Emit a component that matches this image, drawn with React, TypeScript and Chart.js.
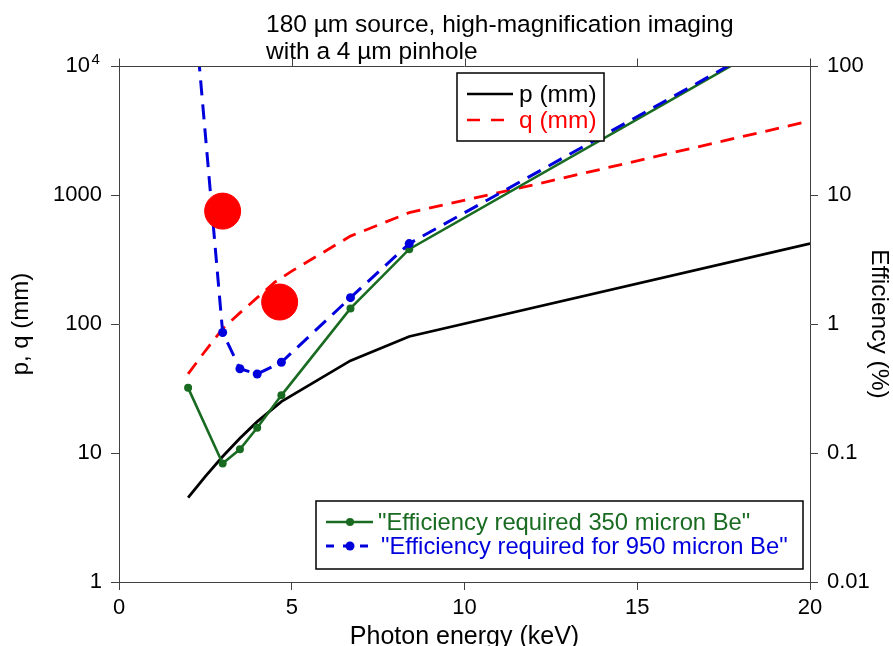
import React, { useEffect, useRef } from 'react';
import { Chart, registerables } from 'chart.js';

Chart.register(...registerables);

// ---------- data ----------
const pEnergy = [2, 2.5, 3, 3.5, 4, 4.7, 6.7, 8.4, 20];
const pValues = [4.5, 6.6, 9.4, 13, 17.5, 25, 52, 80, 420];

const qEnergy = [2, 2.5, 3, 3.5, 4, 4.5, 5, 6.7, 8.4, 11.7, 20];
const qValues = [41, 62, 92, 122, 160, 210, 257, 480, 730, 1150, 3750];

const eff350Energy = [2, 3, 3.5, 4, 4.7, 6.7, 8.4, 20];
const eff350Values = [0.32, 0.083, 0.107, 0.157, 0.28, 1.32, 3.8, 224];

const eff950Energy = [2, 3, 3.5, 4, 4.7, 6.7, 8.4, 20];
const eff950Values = [1000, 0.86, 0.45, 0.41, 0.505, 1.6, 4.2, 226];

const sourceEnergy = [3, 4.65];
const sourceValues = [750, 148];

const xTicks = [0, 5, 10, 15, 20];
const leftTicks = [1, 10, 100, 1000, 10000];
const rightTicks = [0.01, 0.1, 1, 10, 100];

const titleLines = ['180 µm source, high-magnification imaging', 'with a 4 µm pinhole'];
const legendTop = ['p (mm)', 'q (mm)'];
const legendBottom = ['"Efficiency required 350 micron Be"', '"Efficiency required for 950 micron Be"'];

// ---------- styles ----------
const FONT = "'Liberation Sans', Arial, sans-serif";
const FRAME = '#404040';
const BLACK = '#000000';
const RED = '#ff0000';
const GREEN = '#1a6b22';
const BLUE = '#0000dd';

const toXY = (xs: number[], ys: number[]) => xs.map((x, i) => ({ x, y: ys[i] }));

const decorPlugin = {
  id: 'decor',
  afterDraw(chart: any) {
    const ctx = chart.ctx as CanvasRenderingContext2D;
    const { left, right, top } = chart.chartArea;
    const xs = chart.scales.x;
    const ys = chart.scales.y;
    ctx.save();

    // top frame + outward ticks
    ctx.strokeStyle = FRAME;
    ctx.lineWidth = 1;
    ctx.beginPath();
    const ty = Math.round(top) + 0.5;
    ctx.moveTo(left, ty);
    ctx.lineTo(right, ty);
    xTicks.forEach((v) => {
      const px = Math.round(xs.getPixelForValue(v)) + 0.5;
      ctx.moveTo(px, ty);
      ctx.lineTo(px, ty - 8);
    });
    ctx.stroke();

    // 10^4 label
    const y4 = ys.getPixelForValue(10000);
    ctx.fillStyle = BLACK;
    ctx.textBaseline = 'alphabetic';
    ctx.textAlign = 'right';
    ctx.font = `22px ${FONT}`;
    ctx.fillText('10', 90, y4 + 6);
    ctx.textAlign = 'left';
    ctx.font = `15px ${FONT}`;
    ctx.fillText('4', 91.5, y4 - 2);

    // title
    ctx.font = `24.5px ${FONT}`;
    ctx.fillText(titleLines[0], 266, 32);
    ctx.fillText(titleLines[1], 266, 59);

    // legend 1
    ctx.fillStyle = '#ffffff';
    ctx.fillRect(457, 73, 147, 68);
    ctx.strokeStyle = BLACK;
    ctx.lineWidth = 1.5;
    ctx.strokeRect(457, 73, 147, 68);
    ctx.lineWidth = 2.6;
    ctx.beginPath();
    ctx.strokeStyle = BLACK;
    ctx.moveTo(467, 94);
    ctx.lineTo(513, 94);
    ctx.stroke();
    ctx.beginPath();
    ctx.strokeStyle = RED;
    ctx.setLineDash([13, 11]);
    ctx.moveTo(467, 120);
    ctx.lineTo(515, 120);
    ctx.stroke();
    ctx.setLineDash([]);
    ctx.font = `24.5px ${FONT}`;
    ctx.textBaseline = 'middle';
    ctx.textAlign = 'left';
    ctx.fillStyle = BLACK;
    ctx.fillText(legendTop[0], 519, 95);
    ctx.fillStyle = RED;
    ctx.fillText(legendTop[1], 519, 121);

    // legend 2
    ctx.fillStyle = '#ffffff';
    ctx.fillRect(316, 501, 487, 68);
    ctx.strokeStyle = BLACK;
    ctx.lineWidth = 1.5;
    ctx.strokeRect(316, 501, 487, 68);
    ctx.lineWidth = 2.6;
    ctx.strokeStyle = GREEN;
    ctx.beginPath();
    ctx.moveTo(326, 522);
    ctx.lineTo(373, 522);
    ctx.stroke();
    ctx.fillStyle = GREEN;
    ctx.beginPath();
    ctx.arc(350, 522, 4, 0, Math.PI * 2);
    ctx.fill();
    ctx.strokeStyle = BLUE;
    ctx.lineWidth = 3;
    ctx.setLineDash([8, 9]);
    ctx.beginPath();
    ctx.moveTo(326, 546);
    ctx.lineTo(376, 546);
    ctx.stroke();
    ctx.setLineDash([]);
    ctx.fillStyle = BLUE;
    ctx.beginPath();
    ctx.arc(350, 546, 4.5, 0, Math.PI * 2);
    ctx.fill();
    ctx.font = `23.8px ${FONT}`;
    ctx.fillStyle = GREEN;
    ctx.fillText(legendBottom[0], 378, 523);
    ctx.fillStyle = BLUE;
    ctx.fillText(legendBottom[1], 381, 547);

    ctx.restore();
  },
};

export default function App() {
  const ref = useRef<HTMLCanvasElement | null>(null);

  useEffect(() => {
    document.body.style.margin = '0';
    const canvas = ref.current;
    if (!canvas) return;

    const axisCommon = {
      grid: { drawOnChartArea: false, drawTicks: true, tickLength: 8, color: FRAME, lineWidth: 1 },
      border: { display: true, color: FRAME, width: 1 },
    };

    const chart = new Chart(canvas, {
      type: 'line',
      data: {
        datasets: [
          {
            label: 'source',
            data: toXY(sourceEnergy, sourceValues),
            yAxisID: 'y',
            showLine: false,
            pointRadius: 18,
            pointBackgroundColor: RED,
            pointBorderColor: RED,
            borderColor: RED,
            backgroundColor: RED,
            order: 0,
          },
          {
            label: legendBottom[1],
            data: toXY(eff950Energy, eff950Values),
            yAxisID: 'y2',
            borderColor: BLUE,
            backgroundColor: BLUE,
            borderWidth: 3,
            borderDash: [15, 9],
            pointRadius: 4.5,
            pointBackgroundColor: BLUE,
            pointBorderColor: BLUE,
            pointBorderWidth: 0,
            tension: 0,
            order: 1,
          },
          {
            label: legendBottom[0],
            data: toXY(eff350Energy, eff350Values),
            yAxisID: 'y2',
            borderColor: GREEN,
            backgroundColor: GREEN,
            borderWidth: 2.6,
            pointRadius: 4,
            pointBackgroundColor: GREEN,
            pointBorderColor: GREEN,
            pointBorderWidth: 0,
            tension: 0,
            order: 2,
          },
          {
            label: legendTop[1],
            data: toXY(qEnergy, qValues),
            yAxisID: 'y',
            borderColor: RED,
            borderWidth: 2.8,
            borderDash: [14, 9],
            pointRadius: 0,
            tension: 0,
            order: 3,
          },
          {
            label: legendTop[0],
            data: toXY(pEnergy, pValues),
            yAxisID: 'y',
            borderColor: BLACK,
            borderWidth: 2.8,
            pointRadius: 0,
            tension: 0,
            order: 4,
          },
        ],
      },
      options: {
        responsive: false,
        animation: false,
        events: [],
        layout: { padding: { top: 66, left: 0, right: 0, bottom: 0 } },
        plugins: { legend: { display: false }, tooltip: { enabled: false }, title: { display: false } },
        scales: {
          x: {
            type: 'linear',
            position: 'bottom',
            min: 0,
            max: 20,
            ...axisCommon,
            afterBuildTicks: (s: any) => {
              s.ticks = xTicks.map((v) => ({ value: v }));
            },
            afterFit: (s: any) => {
              s.height = 64;
            },
            ticks: { color: BLACK, font: { family: FONT, size: 22 }, padding: 5, autoSkip: false, maxRotation: 0 },
            title: {
              display: true,
              text: 'Photon energy (keV)',
              color: BLACK,
              font: { family: FONT, size: 25, lineHeight: 0.72 },
              padding: { top: 0, bottom: 0 },
            },
          },
          y: {
            type: 'logarithmic',
            position: 'left',
            min: 1,
            max: 10000,
            ...axisCommon,
            afterBuildTicks: (s: any) => {
              s.ticks = leftTicks.map((v) => ({ value: v }));
            },
            afterFit: (s: any) => {
              s.width = 119;
            },
            ticks: {
              color: BLACK,
              font: { family: FONT, size: 22 },
              padding: 9,
              autoSkip: false,
              callback: (v: any) => (Number(v) === 10000 ? '' : String(v)),
            },
            title: {
              display: true,
              text: 'p, q (mm)',
              color: BLACK,
              font: { family: FONT, size: 24 },
              padding: { top: 7, bottom: 0 },
            },
          },
          y2: {
            type: 'logarithmic',
            position: 'right',
            min: 0.01,
            max: 100,
            ...axisCommon,
            afterBuildTicks: (s: any) => {
              s.ticks = rightTicks.map((v) => ({ value: v }));
            },
            afterFit: (s: any) => {
              s.width = 83;
            },
            ticks: {
              color: BLACK,
              font: { family: FONT, size: 22 },
              padding: 9,
              autoSkip: false,
              callback: (v: any) => String(Number(v)),
            },
            title: {
              display: true,
              text: 'Efficiency (%)',
              color: BLACK,
              font: { family: FONT, size: 24.5 },
              padding: { top: 0, bottom: 0 },
            },
          },
        },
      } as any,
      plugins: [decorPlugin],
    });

    return () => chart.destroy();
  }, []);

  return (
    <div style={{ width: 893, height: 646, background: '#ffffff' }}>
      <canvas ref={ref} width={893} height={646} style={{ display: 'block' }} />
    </div>
  );
}
